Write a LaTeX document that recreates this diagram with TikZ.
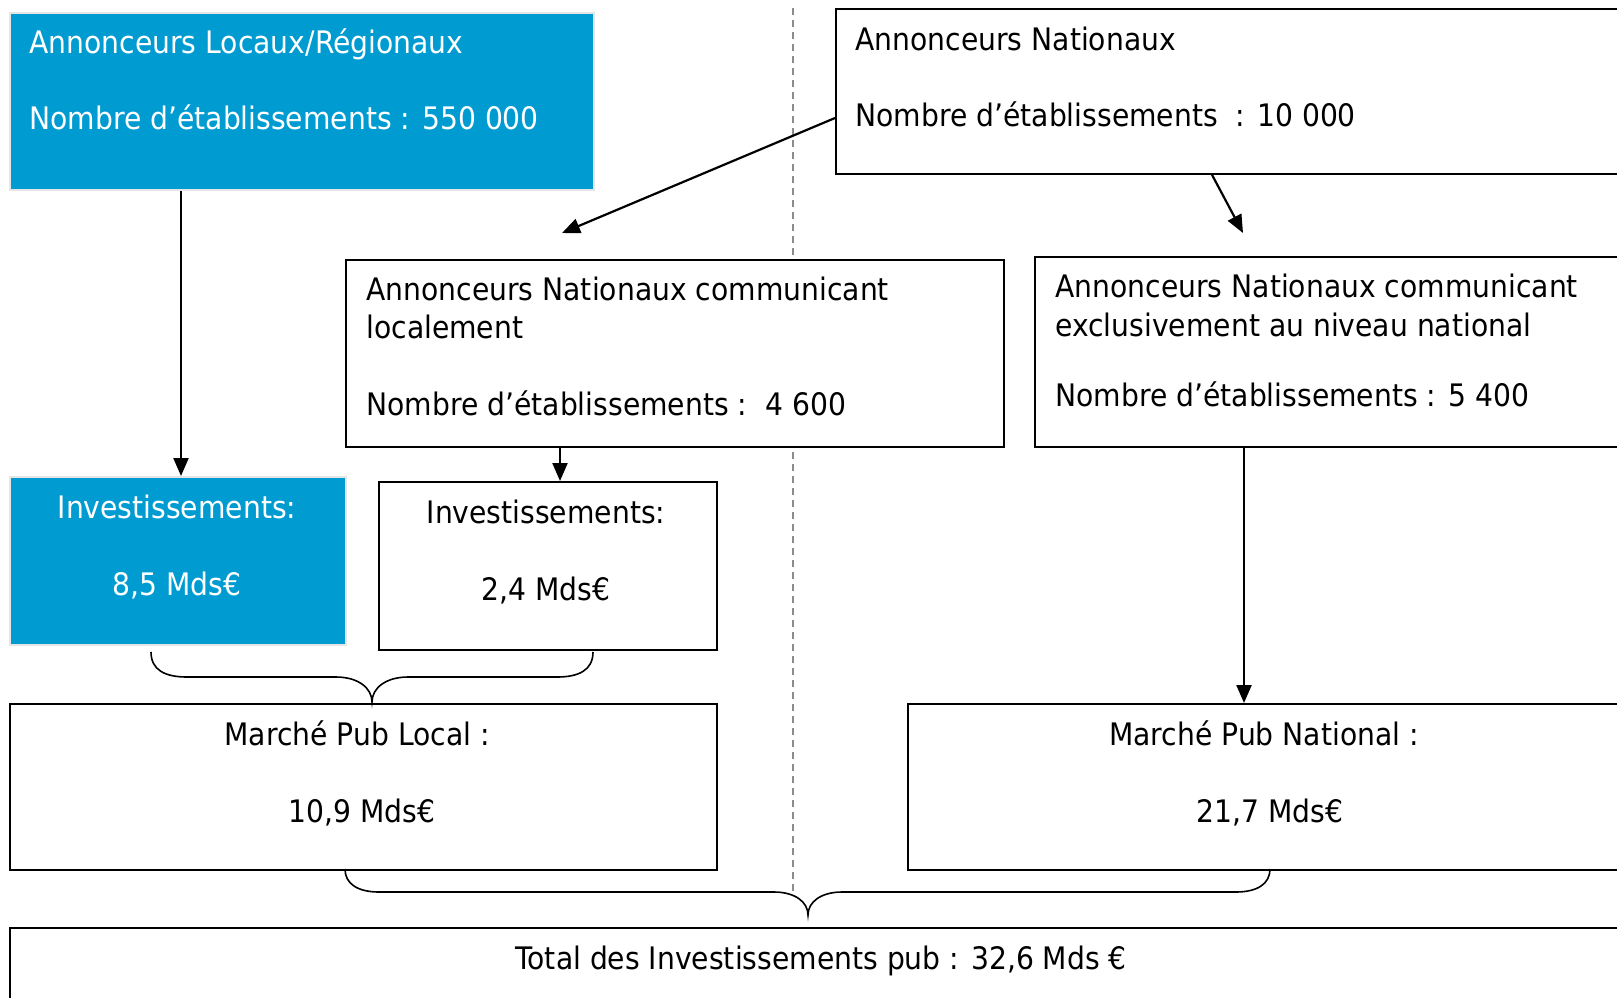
\documentclass[tikz,border=0pt]{standalone}
\usepackage{fontspec}
\setmainfont{DejaVu Sans}[FakeStretch=0.91]
\usetikzlibrary{arrows.meta}
\begin{document}
\begin{tikzpicture}[x=0.5pt,y=-0.5pt,line join=miter,
  box/.style={draw=black,line width=0.9pt,fill=white,inner sep=0pt,anchor=north west},
  bluebox/.style={box,draw=black!10,fill=pubblue},
  txt/.style={inner sep=0pt,font=\fontsize{15.5pt}{19pt}\selectfont},
  arr/.style={line width=1.1pt,-{Triangle[length=9pt,width=7.5pt]}},
  brace/.style={line width=0.8pt},
  sep/.style={draw=sepgray,line width=0.6pt,dash pattern=on 3.5pt off 2.5pt}]
  \definecolor{pubblue}{RGB}{0,156,209}
  \definecolor{sepgray}{RGB}{140,140,140}
  \useasboundingbox (0,0) rectangle (1617,997);

  % local / national divide
  \draw[sep] (793,8) -- (793,892);

  % advertisers
  \node[bluebox,minimum width=292pt,minimum height=88.5pt] (A) at (9,12) {};
  \node[txt,white,anchor=base west] (A1) at (29,53) {Annonceurs Locaux/Régionaux};
  \node[txt,white,anchor=base west] (A2) at (29,129) {Nombre d’établissements : 550 000};

  \node[box,minimum width=402.5pt,minimum height=82.5pt] (N) at (835,8) {};
  \node[txt,anchor=base west] (N1) at (855,50) {Annonceurs Nationaux};
  \node[txt,anchor=base west] (N2) at (855,126) {Nombre d’établissements\ \ : 10 000};

  \node[box,minimum width=329pt,minimum height=93.5pt] (NL) at (345,259) {};
  \node[txt,anchor=base west] (NL1) at (366,300) {Annonceurs Nationaux communicant};
  \node[txt,anchor=base west] (NL2) at (366,338) {localement};
  \node[txt,anchor=base west] (NL3) at (366,415) {Nombre d’établissements :\ \ 4 600};

  \node[box,minimum width=303pt,minimum height=95pt] (NN) at (1034,256) {};
  \node[txt,anchor=base west] (NN1) at (1055,297) {Annonceurs Nationaux communicant};
  \node[txt,anchor=base west] (NN2) at (1055,336) {exclusivement au niveau national};
  \node[txt,anchor=base west] (NN3) at (1055,406) {Nombre d’établissements : 5 400};

  % investments
  \node[bluebox,minimum width=168pt,minimum height=84pt] (IL) at (9,476) {};
  \node[txt,white,anchor=base] (IL1) at (177,518) {Investissements:};
  \node[txt,white,anchor=base] (IL2) at (177,595) {8,5 Mds€};

  \node[box,minimum width=169pt,minimum height=84pt] (IN) at (378,481) {};
  \node[txt,anchor=base] (IN1) at (546,523) {Investissements:};
  \node[txt,anchor=base] (IN2) at (546,600) {2,4 Mds€};

  % markets
  \node[box,minimum width=353.5pt,minimum height=83pt] (ML) at (9,703) {};
  \node[txt,anchor=base] (ML1) at (357,745) {Marché Pub Local :};
  \node[txt,anchor=base] (ML2) at (362,822) {10,9 Mds€};

  \node[box,minimum width=363pt,minimum height=83pt] (MN) at (907,703) {};
  \node[txt,anchor=base] (MN1) at (1264,745) {Marché Pub National :};
  \node[txt,anchor=base] (MN2) at (1270,822) {21,7 Mds€};

  \node[box,minimum width=812pt,minimum height=41.5pt] (T) at (9,927) {};
  \node[txt,anchor=base] (T1) at (821,969) {Total des Investissements pub : 32,6 Mds €};

  % arrows
  \coordinate (nlTip) at (562,233);
  \coordinate (nnTip) at (1243,233);
  \draw[arr] (181,0 |- A.south) -- (181,0 |- IL.north);
  \draw[arr] (N.west |- 0,118) -- (nlTip);
  \draw[arr] (1212,0 |- N.south) -- (nnTip);
  \draw[arr] (560,0 |- NL.south) -- (560,0 |- IN.north);
  \draw[arr] (1244,0 |- NN.south) -- (1244,0 |- MN.north);

  % braces
  \draw[brace] (151,652) .. controls (151,670) and (165,677) .. (187,677) -- (336,677)
    .. controls (358,677) and (372,688) .. (372,702) .. controls (372,688) and (386,677) .. (408,677)
    -- (557,677) .. controls (579,677) and (593,670) .. (593,652);
  \draw[brace] (345,869) .. controls (345,884) and (358,892) .. (379,892) -- (774,892)
    .. controls (795,892) and (808,902) .. (808,915) .. controls (808,902) and (821,892) .. (842,892)
    -- (1236,892) .. controls (1257,892) and (1270,884) .. (1270,869);
\end{tikzpicture}
\end{document}
